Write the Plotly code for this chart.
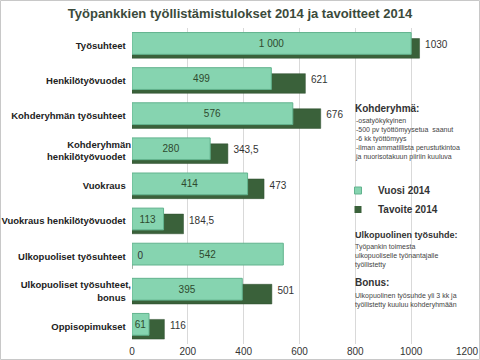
import plotly.graph_objects as go

categories = ["Työsuhteet", "Henkilötyövuodet", "Kohderyhmän työsuhteet",
              "Kohderyhmän<br>henkilötyövuodet", "Vuokraus", "Vuokraus henkilötyövuodet",
              "Ulkopuoliset työsuhteet", "Ulkopuoliset työsuhteet,<br>bonus", "Oppisopimukset"]
vuosi_2014 = [1000, 499, 576, 280, 414, 113, 542, 395, 61]
tavoite_2014 = [1030, 621, 676, 343.5, 473, 184.5, 0, 501, 116]
x_ticks = [0, 200, 400, 600, 800, 1000, 1200]

LIGHT = "#86d4b0"
DARK = "#3a613a"

def fmt_vuosi(v):
    return f"{v:,.0f}".replace(",", " ")

def fmt_tavoite(v):
    return f"{v:g}".replace(".", ",")

L, R, T, B = 132, 13, 28, 16
W, H = 480, 360
pw = W - L - R
ph = H - T - B

def px(x):
    return (x - L) / pw

def py(y):
    return (H - B - y) / ph

FONT = "Liberation Sans"

fig = go.Figure()
fig.add_trace(go.Bar(
    y=categories, x=tavoite_2014, orientation="h", name="Tavoite 2014",
    marker=dict(color=DARK, line=dict(color="#2f4f2f", width=0.5)),
    offset=-0.2, width=0.56, showlegend=False,
))
fig.add_trace(go.Bar(
    y=categories, x=vuosi_2014, orientation="h", name="Vuosi 2014",
    marker=dict(color=LIGHT, line=dict(color="#62b38e", width=1)),
    offset=-0.37, width=0.62, showlegend=False,
    text=[fmt_vuosi(v) for v in vuosi_2014], textposition="inside",
    insidetextanchor="middle", textangle=0,
    textfont=dict(size=10, color="#2e4a2e", family=FONT),
    constraintext="none",
))
# Tavoite value labels, drawn on top of the bars
fig.add_trace(go.Scatter(
    y=categories, x=tavoite_2014, mode="text", showlegend=False,
    text=["  " + fmt_tavoite(v) for v in tavoite_2014], textposition="middle right",
    textfont=dict(size=10, color="#333333", family=FONT), cliponaxis=False,
    hoverinfo="skip",
))
# legend entries with small square symbols
fig.add_trace(go.Scatter(x=[None], y=[None], mode="markers", name="Vuosi 2014",
                         marker=dict(symbol="square", size=7, color=LIGHT,
                                     line=dict(color="#62b38e", width=1))))
fig.add_trace(go.Scatter(x=[None], y=[None], mode="markers", name="Tavoite 2014",
                         marker=dict(symbol="square", size=7, color=DARK)))

fig.update_layout(
    width=W, height=H,
    margin=dict(l=L, r=R, t=T, b=B, autoexpand=False),
    barmode="overlay",
    paper_bgcolor="white", plot_bgcolor="white",
    font=dict(family=FONT, size=10, color="#333333"),
    title=dict(text="<b>Työpankkien työllistämistulokset 2014 ja tavoitteet 2014</b>",
               x=0.5, xref="container", xanchor="center", y=1 - 13 / H, yref="container",
               yanchor="middle",
               font=dict(size=13, color="#3b4a3b", family=FONT)),
    showlegend=True,
    legend=dict(x=px(338), y=py(176), xanchor="left", yanchor="top",
                bgcolor="rgba(0,0,0,0)", itemwidth=30, tracegroupgap=0,
                font=dict(size=10, color="#333333", family=FONT, weight="bold")),
    xaxis=dict(range=[0, 1200], tickvals=x_ticks, showgrid=True, gridcolor="#d9d9d9",
               gridwidth=1, zeroline=False, showline=False, ticks="", automargin=False,
               tickfont=dict(size=10, color="#333333")),
    yaxis=dict(autorange="reversed", type="category", showgrid=False, ticks="",
               showline=False, ticksuffix="  ", automargin=False,
               tickfont=dict(size=9.5, color="#222222", family=FONT, weight="bold")),
)

def note(text, x, y, size, bold=False, color="#444444"):
    fig.add_annotation(text=(f"<b>{text}</b>" if bold else text), xref="paper", yref="paper",
                       x=px(x), y=py(y), xanchor="left", yanchor="middle", showarrow=False,
                       align="left", font=dict(size=size, color=color, family=FONT))

note("Kohderyhmä:", 353, 108, 10, True, "#333333")
note("-osatyökykyinen<br>-500 pv työttömyysetua  saanut<br>-6 kk työttömyys<br>"
     "-ilman ammatillista perustutkintoa<br>ja nuorisotakuun piiriin kuuluva", 353, 139, 7)
note("Ulkopuolinen työsuhde:", 353, 235, 9, True, "#333333")
note("Työpankin toimesta<br>ulkopuoliselle työnantajalle<br>työllistetty", 353, 256, 7)
note("Bonus:", 353, 282, 10, True, "#333333")
note("Ulkopuolinen työsuhde yli 3 kk ja<br>työllistetty kuuluu kohderyhmään", 353, 300, 7)

fig.add_shape(type="rect", xref="paper", yref="paper", x0=px(0.5), x1=px(W - 0.5),
              y0=py(H - 0.5), y1=py(0.5), line=dict(color="#c8c8c8", width=1))

fig.write_html("out.html", config={"displayModeBar": False},
               post_script="document.body.style.margin='0';")
